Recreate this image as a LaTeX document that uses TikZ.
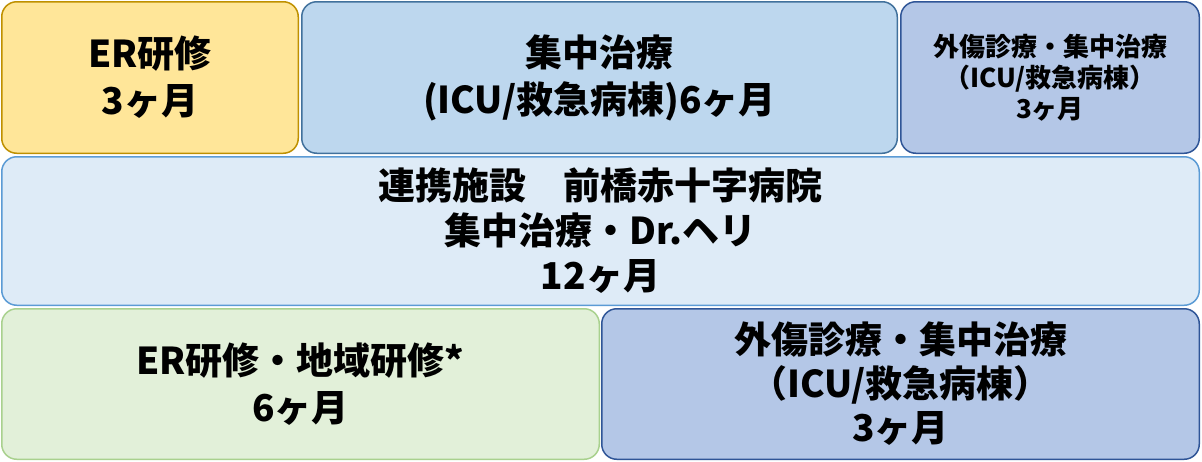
\documentclass[tikz,border=0pt]{standalone}
\usepackage{fontspec}
\setmainfont{Noto Sans CJK JP}
\definecolor{erfill}{HTML}{FFE699}
\definecolor{erline}{HTML}{BF9000}
\definecolor{icufill}{HTML}{BDD7EE}
\definecolor{iculine}{HTML}{41719C}
\definecolor{trfill}{HTML}{B4C7E7}
\definecolor{trline}{HTML}{2F5597}
\definecolor{redfill}{HTML}{DEEBF7}
\definecolor{redline}{HTML}{5B9BD5}
\definecolor{comfill}{HTML}{E2F0D9}
\definecolor{comline}{HTML}{A9D18E}
\begin{document}
\begin{tikzpicture}[x=1pt,y=-1pt]

    \tikzset{
      block/.style={
        rectangle,
        rounded corners=15pt,
        line width=1.5pt,
        inner sep=0pt,
        align=center,
        font=\bfseries\fontsize{37}{47}\selectfont,
      },
      small block/.style={
        block,
        font=\bfseries\fontsize{26}{31}\selectfont,
      },
    }
    \useasboundingbox (0,0) rectangle (1202,461);
	\node[block, draw=erline, fill=erfill, minimum width=296.5pt, minimum height=151.5pt] (er) at (150,77.5) {ER研修\\3ヶ月};
	\node[block, draw=iculine, fill=icufill, minimum width=595.5pt, minimum height=151.5pt] (icu) at (599.5,77.5) {集中治療\\(ICU/救急病棟)6ヶ月};
	\node[small block, draw=trline, fill=trfill, minimum width=298.5pt, minimum height=151.5pt] (trauma) at (1050,77.5) {外傷診療・集中治療\\（ICU/救急病棟）\\3ヶ月};
	\node[block, draw=redline, fill=redfill, minimum width=1197.5pt, minimum height=148.5pt, font=\bfseries\fontsize{37}{45}\selectfont] (maebashi) at (600.5,231) {連携施設　前橋赤十字病院\\集中治療・Dr.ヘリ\\12ヶ月};
	\node[block, draw=comline, fill=comfill, minimum width=597.5pt, minimum height=150.5pt] (community) at (300.5,384) {ER研修・地域研修*\\6ヶ月};
	\node[block, draw=trline, fill=trfill, minimum width=597.5pt, minimum height=150.5pt, font=\bfseries\fontsize{37}{44}\selectfont] (trauma2) at (900.5,384) {外傷診療・集中治療\\（ICU/救急病棟）\\3ヶ月};

\end{tikzpicture}
\end{document}
